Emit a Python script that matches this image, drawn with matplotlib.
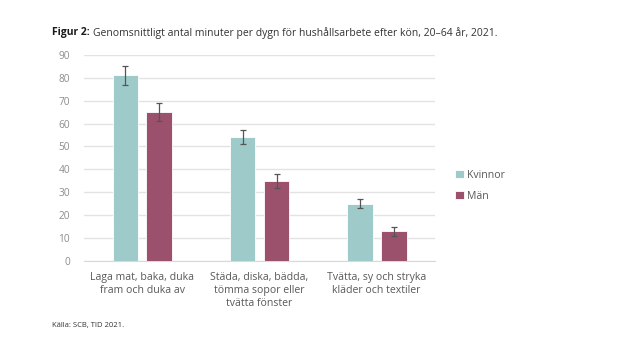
import numpy as np
import matplotlib
matplotlib.use('Agg')
import matplotlib.pyplot as plt

plt.rcParams['font.family'] = ['Open Sans', 'DejaVu Sans']

categories = ['Laga mat, baka, duka\nfram och duka av',
              'Städa, diska, bädda,\ntömma sopor eller\ntvätta fönster',
              'Tvätta, sy och stryka\nkläder och textiler']
kvinnor = [81, 54, 25]
kvinnor_err = [4, 3, 2]
man = [65, 35, 13]
man_err = [4, 3, 2]
yticks = list(range(0, 100, 10))

c_kv = '#9ecbc9'
c_man = '#9b516b'

fig = plt.figure(figsize=(6.4, 3.43), dpi=100)
ax = fig.add_axes([0.131, 0.239, 0.549, 0.601])

x = np.arange(len(categories))
w = 0.22
off = 0.145
err_kw = dict(ecolor='#555555', elinewidth=0.9, capsize=2.5, capthick=0.9)
ax.bar(x - off, kvinnor, w, yerr=kvinnor_err, color=c_kv, edgecolor='white',
       linewidth=0.6, label='Kvinnor', error_kw=err_kw, zorder=3)
ax.bar(x + off, man, w, yerr=man_err, color=c_man, edgecolor='white',
       linewidth=0.6, label='Män', error_kw=err_kw, zorder=3)

ax.set_xlim(-0.5, 2.5)
ax.set_ylim(0, 90)
ax.set_yticks(yticks)
ax.set_xticks(x)
ax.set_xticklabels(categories, fontsize=7.6, color='#595959', linespacing=1.25)
ax.tick_params(axis='y', labelsize=7.3, labelcolor='#8c8c8c', length=0, pad=10)
ax.tick_params(axis='x', length=0, pad=8)
ax.grid(axis='y', color='#e3e3e3', linewidth=1.0, zorder=0)
ax.set_axisbelow(True)
for s in ['top', 'right', 'left']:
    ax.spines[s].set_visible(False)
ax.spines['bottom'].set_color('#d9d9d9')

leg = ax.legend(loc='center left', bbox_to_anchor=(1.03, 0.365), frameon=False,
                fontsize=7.6, handlelength=0.8, handleheight=0.8, handletextpad=0.3,
                labelspacing=0.9)
for t in leg.get_texts():
    t.set_color('#595959')

fig.canvas.draw()
r = fig.canvas.get_renderer()
t1 = fig.text(52 / 640, 1 - 33 / 343, 'Figur 2:', fontsize=7.5, fontweight='bold',
              color='#1a1a1a', va='center')
bb = t1.get_window_extent(renderer=r)
fig.text((bb.x1 + 3) / 640, 1 - 33 / 343,
         'Genomsnittligt antal minuter per dygn för hushållsarbete efter kön, 20–64 år, 2021.',
         fontsize=7.5, color='#333333', va='center')
fig.text(52 / 640, 1 - 325 / 343, 'Källa: SCB, TID 2021.', fontsize=5.5,
         color='#333333', va='center')

fig.savefig('out.png', dpi=100)
